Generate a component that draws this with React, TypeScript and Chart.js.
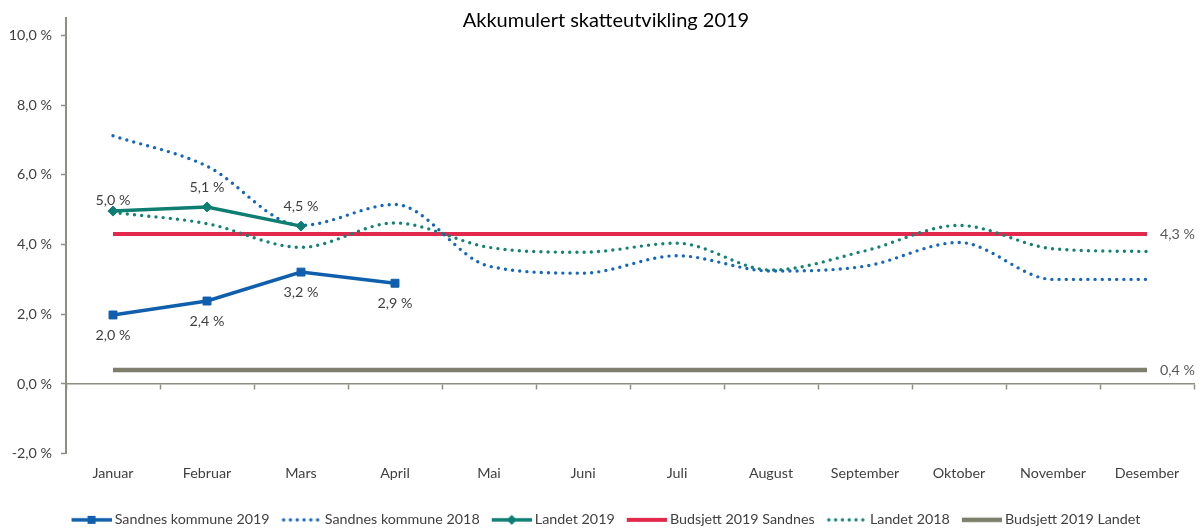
import React, { useEffect, useRef } from 'react';
import { Chart, registerables } from 'chart.js';

Chart.register(...registerables);

const months = ['Januar', 'Februar', 'Mars', 'April', 'Mai', 'Juni', 'Juli', 'August', 'September', 'Oktober', 'November', 'Desember'];
const sandnes2019: (number | null)[] = [1.98, 2.38, 3.21, 2.89, null, null, null, null, null, null, null, null];
const sandnes2018 = [7.12, 6.25, 4.55, 5.15, 3.38, 3.18, 3.68, 3.24, 3.38, 4.06, 3.0, 3.0];
const landet2019: (number | null)[] = [4.96, 5.08, 4.53, null, null, null, null, null, null, null, null, null];
const landet2018 = [4.92, 4.6, 3.92, 4.62, 3.92, 3.78, 4.04, 3.27, 3.82, 4.55, 3.88, 3.8];
const budsjettSandnes = [4.3, 4.3, 4.3, 4.3, 4.3, 4.3, 4.3, 4.3, 4.3, 4.3, 4.3, 4.3];
const budsjettLandet = [0.4, 0.4, 0.4, 0.4, 0.4, 0.4, 0.4, 0.4, 0.4, 0.4, 0.4, 0.4];
const yTicks = [-2, 0, 2, 4, 6, 8, 10];

const FONT = 'Lato, "Open Sans", sans-serif';
const FS = 14.3;
const BLUE = '#0F5FAD';
const BLUE_DOT = '#1466BE';
const TEAL = '#0E7E72';
const TEAL_DOT = '#138274';
const RED = '#E2284D';
const GRAY = '#7E7E6C';
const AXIS = '#8E8E84';
const TEXT = '#404040';

const fmt = (v: number) => v.toFixed(1).replace('.', ',') + ' %';

type Kind = 'square' | 'diamond' | 'dot' | 'solid';

// legend sample: canvas 42 wide, sample drawn on x in [2, 42]
function makeSample(color: string, kind: Kind, width: number): HTMLCanvasElement {
  const c = document.createElement('canvas');
  c.width = 42;
  c.height = 12;
  const ctx = c.getContext('2d')!;
  const y = 6;
  const x0 = 2;
  const x1 = 42;
  const mid = (x0 + x1) / 2;
  if (kind === 'dot') {
    ctx.fillStyle = color;
    for (let x = x0 + 2; x < x1; x += 6.8) {
      ctx.beginPath();
      ctx.arc(x, y, 1.7, 0, Math.PI * 2);
      ctx.fill();
    }
  } else {
    ctx.strokeStyle = color;
    ctx.lineWidth = width;
    ctx.beginPath();
    ctx.moveTo(x0, y);
    ctx.lineTo(x1, y);
    ctx.stroke();
    ctx.fillStyle = color;
    if (kind === 'square') {
      ctx.fillRect(mid - 4, y - 4, 8, 8);
    } else if (kind === 'diamond') {
      ctx.beginPath();
      ctx.moveTo(mid, y - 5);
      ctx.lineTo(mid + 5, y);
      ctx.lineTo(mid, y + 5);
      ctx.lineTo(mid - 5, y);
      ctx.closePath();
      ctx.fill();
    }
  }
  return c;
}

const valueLabels = {
  id: 'valueLabels',
  afterDatasetsDraw(chart: any, _args: any, opts: any) {
    const ctx = chart.ctx;
    ctx.save();
    ctx.font = `${FS}px ${FONT}`;
    ctx.textBaseline = 'middle';
    for (const cfg of opts.items || []) {
      const meta = chart.getDatasetMeta(cfg.index);
      const values = chart.data.datasets[cfg.index].data;
      meta.data.forEach((pt: any, j: number) => {
        const v = values[j];
        if (v == null) return;
        if (cfg.lastOnly && j !== values.length - 1) return;
        const dy = Array.isArray(cfg.dy) ? cfg.dy[j] : cfg.dy;
        ctx.fillStyle = cfg.color;
        ctx.textAlign = cfg.align;
        ctx.fillText(fmt(v), pt.x + cfg.dx, pt.y + dy);
      });
    }
    ctx.restore();
  },
};

// nudge the full-width title and legend blocks horizontally
const shiftBlocks = {
  id: 'shiftBlocks',
  afterLayout(chart: any, _args: any, opts: any) {
    const t = chart.titleBlock;
    if (t) {
      t.left += opts.title;
      t.right += opts.title;
    }
    const l = chart.legend;
    if (l) {
      l.left += opts.legend;
      l.right += opts.legend;
    }
  },
};

export default function App() {
  const ref = useRef<HTMLCanvasElement | null>(null);

  useEffect(() => {
    if (!ref.current) return;
    const samples = [
      makeSample(BLUE, 'square', 3.5),
      makeSample(BLUE_DOT, 'dot', 3),
      makeSample(TEAL, 'diamond', 3.5),
      makeSample(RED, 'solid', 4),
      makeSample(TEAL_DOT, 'dot', 3),
      makeSample(GRAY, 'solid', 4.5),
    ];
    const chart = new Chart(ref.current, {
      type: 'line',
      data: {
        labels: months,
        datasets: [
          {
            label: 'Sandnes kommune 2019',
            data: sandnes2019,
            borderColor: BLUE,
            backgroundColor: BLUE,
            borderWidth: 3.5,
            pointStyle: 'rect',
            pointRadius: 5.6,
            pointBackgroundColor: BLUE,
            pointBorderColor: BLUE,
            pointBorderWidth: 1,
            tension: 0,
            order: 0,
          },
          {
            label: 'Sandnes kommune 2018',
            data: sandnes2018,
            borderColor: BLUE_DOT,
            borderWidth: 3.4,
            borderDash: [0, 7.2],
            borderCapStyle: 'round',
            pointRadius: 0,
            cubicInterpolationMode: 'monotone',
            order: 2,
          },
          {
            label: 'Landet 2019',
            data: landet2019,
            borderColor: TEAL,
            backgroundColor: TEAL,
            borderWidth: 3.5,
            pointStyle: 'rectRot',
            pointRadius: 5,
            pointBackgroundColor: TEAL,
            pointBorderColor: TEAL,
            pointBorderWidth: 1,
            tension: 0,
            order: 1,
          },
          {
            label: 'Budsjett 2019 Sandnes',
            data: budsjettSandnes,
            borderColor: RED,
            borderWidth: 4,
            pointRadius: 0,
            order: 4,
          },
          {
            label: 'Landet 2018',
            data: landet2018,
            borderColor: TEAL_DOT,
            borderWidth: 3.4,
            borderDash: [0, 7.2],
            borderCapStyle: 'round',
            pointRadius: 0,
            cubicInterpolationMode: 'monotone',
            order: 3,
          },
          {
            label: 'Budsjett 2019 Landet',
            data: budsjettLandet,
            borderColor: GRAY,
            borderWidth: 4.5,
            pointRadius: 0,
            order: 5,
          },
        ],
      } as any,
      options: {
        animation: false,
        responsive: true,
        maintainAspectRatio: false,
        events: [],
        layout: { padding: { left: 4, right: 8, top: 0, bottom: -8 } },
        scales: {
          x: {
            type: 'category',
            position: 'bottom',
            offset: true,
            grid: { display: false },
            border: { display: false },
            ticks: {
              font: { family: FONT, size: FS },
              color: TEXT,
              padding: 3,
              maxRotation: 0,
              autoSkip: false,
            },
            afterFit(s: any) {
              s.height = 45;
            },
          },
          x0: {
            type: 'category',
            labels: months,
            position: { y: 0 },
            offset: true,
            grid: {
              display: true,
              drawOnChartArea: false,
              drawTicks: true,
              tickLength: 5,
              tickColor: AXIS,
              tickWidth: 1.5,
              offset: true,
            },
            border: { display: true, color: AXIS, width: 1.5 },
            ticks: { display: false },
          },
          y: {
            min: -2,
            max: 10.5,
            afterBuildTicks(s: any) {
              s.ticks = yTicks.map((v) => ({ value: v }));
            },
            ticks: {
              callback: (v: any) => fmt(Number(v)),
              font: { family: FONT, size: FS },
              color: TEXT,
              padding: 9,
            },
            grid: {
              display: true,
              drawOnChartArea: false,
              drawTicks: true,
              tickLength: 5,
              tickColor: AXIS,
              tickWidth: 1.5,
            },
            border: { display: true, color: AXIS, width: 2 },
            afterFit(s: any) {
              s.width = 62;
            },
          },
        },
        plugins: {
          title: {
            display: true,
            text: 'Akkumulert skatteutvikling 2019',
            color: '#000000',
            font: { family: FONT, size: 20, weight: 'normal' },
            padding: { top: 9, bottom: -15 },
          },
          legend: {
            display: true,
            position: 'bottom',
            labels: {
              usePointStyle: true,
              pointStyleWidth: 34,
              padding: 14,
              color: TEXT,
              font: { family: FONT, size: FS },
              generateLabels: (c: any) =>
                c.data.datasets.map((ds: any, i: number) => ({
                  text: ds.label,
                  pointStyle: samples[i],
                  datasetIndex: i,
                  hidden: false,
                  fillStyle: ds.borderColor,
                  strokeStyle: ds.borderColor,
                  lineWidth: 0,
                  fontColor: TEXT,
                })),
            },
          },
          tooltip: { enabled: false },
          shiftBlocks: { title: 7, legend: 8 },
          valueLabels: {
            items: [
              { index: 0, dx: 0, dy: 20, align: 'center', color: TEXT },
              { index: 2, dx: 0, dy: [-11, -20, -20], align: 'center', color: TEXT },
              { index: 3, dx: 13, dy: 0, align: 'left', color: '#595959', lastOnly: true },
              { index: 5, dx: 13, dy: 0, align: 'left', color: '#595959', lastOnly: true },
            ],
          },
        } as any,
      },
      plugins: [valueLabels, shiftBlocks],
    });
    return () => chart.destroy();
  }, []);

  return (
    <div style={{ position: 'absolute', left: 0, top: 0, width: 1202, height: 529 }}>
      <canvas ref={ref} />
    </div>
  );
}
